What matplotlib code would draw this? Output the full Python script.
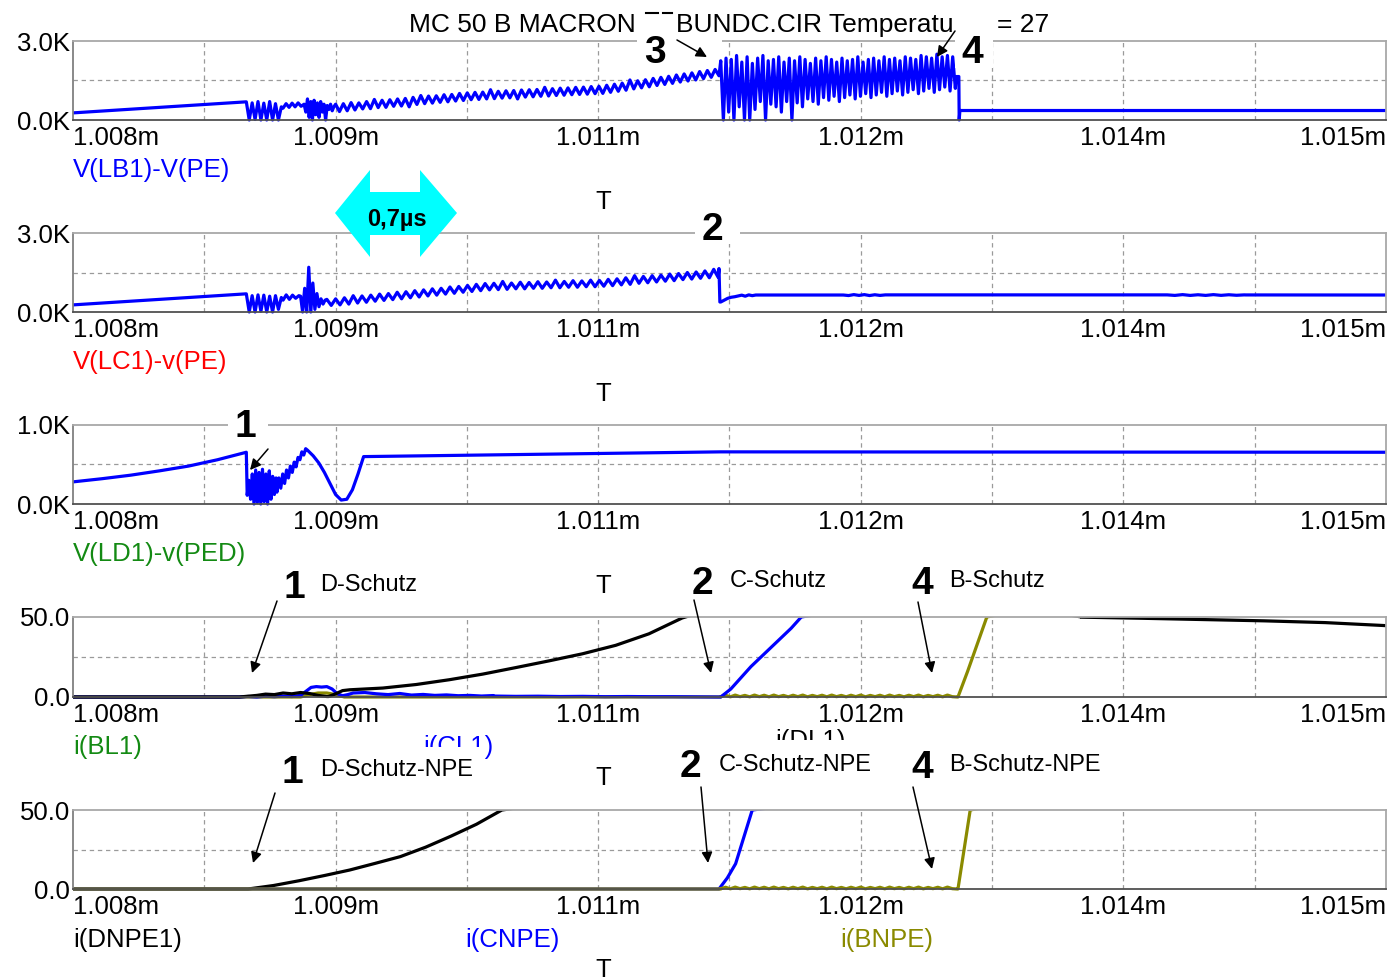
import numpy as np
import matplotlib.pyplot as plt
from matplotlib.patches import Rectangle, Polygon

plt.rcParams['font.family'] = ['Liberation Sans', 'DejaVu Sans']

W, H = 1388, 980
BLUE, RED, GREEN, OLIVE = '#0000ff', '#ff0000', '#138a13', '#8a8a00'

# time axis in microseconds
t_min, t_max = 1008.0, 1015.5
tick_pos = [1008.0, 1009.5, 1011.0, 1012.5, 1014.0, 1015.5]
tick_lbl = ['1.008m', '1.009m', '1.011m', '1.012m', '1.014m', '1.015m']
grid_pos = [1008.75, 1009.5, 1010.25, 1011.0, 1011.75, 1012.5, 1013.25, 1014.0, 1014.75]

# ---- V(LB1)-V(PE)  [V]
lb1_pre = [270, 690]
lb1_burst = [690, 0, 650, 20, 700, 0, 640, 0, 700, 0, 620, 0, 500]
lb1_calm = [450, 620, 480, 640, 500, 650, 520, 600]
lb1_noise = [300, 800, 100, 700, 0, 750, 200, 650, 100, 700, 300, 600, 0, 550, 400, 600, 350, 500]
lb1_ramp = [600, 320, 620, 350, 660, 380, 650, 420, 700, 430, 780, 470, 750, 480, 770, 520,
            800, 530, 820, 500, 860, 590, 930, 620, 910, 640, 920, 670, 960, 690, 970, 720,
            1010, 740, 1030, 770, 1050, 780, 1060, 800, 1150, 810, 1090, 830, 1110, 840,
            1120, 800, 1140, 870, 1150, 880, 1160, 900, 1240, 910, 1190, 930, 1210, 940,
            1220, 960, 1240, 970, 1250, 980, 1270, 1000, 1280, 1010, 1320, 1050, 1360, 1090,
            1400, 1130, 1520, 1180, 1490, 1220, 1530, 1260, 1580, 1310, 1620, 1350, 1660, 1390,
            1710, 1440, 1750, 1480, 1790, 1520, 1840, 1570, 1880, 1620, 1920, 1680]
lb1_ring_hi = [2250, 2350, 2300, 2450, 2200, 2400, 2150, 2350, 2450, 2250, 2300, 2400, 2200, 2350,
               2250, 2400, 2300, 2150, 2350, 2250, 2400, 2300, 2200, 2350, 2250, 2300, 2400, 2200,
               2300, 2350, 2250, 2400, 2300, 2350, 2250, 2400, 2350, 2300, 2450, 2400, 2350, 2500,
               2400, 2450, 2400]
lb1_ring_lo = [0, 300, 0, 500, 0, 0, 400, 700, 0, 600, 500, 300, 700, 0, 650, 500, 800, 700, 600,
               850, 750, 900, 700, 850, 950, 800, 900, 1000, 850, 950, 1050, 900, 1000, 1100, 950,
               1050, 1150, 1000, 1100, 1200, 1050, 1150, 1250, 1100, 1200]
lb1_ring = [v for pair in zip(lb1_ring_hi, lb1_ring_lo) for v in pair]
lb1_plateau = [1650, 1650]
lb1_drop = [0, 360]
lb1_end = [360, 360]

# ---- V(LC1)-v(PE)  [V]
lc1_pre = [270, 690]
lc1_burst = [690, 0, 620, 0, 650, 30, 640, 0, 600, 0, 620, 100, 550]
lc1_calm = [450, 650, 480, 640, 520, 620]
lc1_spike = [600, 0, 900, 0, 1700, 0, 1100, 100, 700, 200, 500, 300, 450]
lc1_ramp = [480, 250, 500, 270, 540, 300, 620, 340, 610, 370, 640, 410, 680, 440, 700, 470,
            750, 500, 770, 540, 810, 570, 840, 610, 880, 640, 900, 680, 950, 710, 970, 750,
            1010, 780, 1050, 810, 1080, 840, 1090, 850, 1160, 860, 1100, 880, 1130, 880,
            1120, 900, 1150, 900, 1140, 920, 1210, 920, 1160, 940, 1190, 940, 1180, 960,
            1210, 960, 1200, 980, 1240, 1000, 1260, 1030, 1300, 1050, 1380, 1090, 1350, 1110,
            1380, 1140, 1400, 1170, 1440, 1190, 1460, 1230, 1500, 1250, 1520, 1280, 1560, 1300,
            1620, 1320]
lc1_drop = [1650, 380]
lc1_settle = [380, 450, 520, 560, 580, 610, 640, 600, 650, 620, 645]
lc1_flat1 = [645, 645]
lc1_rip1 = [645, 625, 660, 630, 660, 625, 655, 630, 650]
lc1_flat2 = [650, 650]
lc1_rip2 = [650, 630, 660, 630, 655, 630, 660, 632, 655, 635, 650]
lc1_flat3 = [648, 645]

# ---- V(LD1)-v(PED)  [V]
ld1_pre = [280, 320, 365, 420, 480, 560, 655]
ld1_burst = [110, 300, 60, 380, 0, 430, 20, 400, 0, 440, 30, 380, 0, 420, 60, 350, 120, 330]
ld1_rise = [150, 330, 200, 380, 260, 430, 330, 480, 400, 530, 470, 590, 560, 660, 620, 700, 680]
ld1_dip = [680, 610, 520, 400, 260, 120, 50, 60, 180, 380, 600]
ld1_flat = [600, 620, 640, 660]
ld1_end = [660, 655]

# ---- currents [A], panel 4
dl1_zero = [0, 0]
dl1_early = [0, 0.5, 1.0, 1.8, 1.5, 2.5, 2.0, 2.8, 2.2, 1.0, 0.3]
dl1_step = [0.3, 2.0, 4.0, 4.5]
dl1_rise = [4.5, 5.6, 7.8, 10.8, 14.3, 18.4, 22.6, 27.0, 32.3, 39.5, 49.4]
dl1_over = [49.4, 60, 68, 72, 70, 64, 56, 50]
dl1_tail = [49.9, 49.2, 48.4, 47.6, 46.5, 44.6]

cl1_zero = [0, 0]
cl1_low = [0, 0.3, 0, 0.5, 0.2, 0.6, 0.3, 1.0]
cl1_bump = [1.0, 3.5, 6.0, 6.5, 6.2, 6.5, 5.0, 2.0, 0.8, 1.5, 2.5]
cl1_tail = [2.5, 2.8, 2.0, 1.5, 2.2, 1.2, 1.6, 1.0, 1.3, 0.8, 1.0, 0.6, 0.9]
cl1_flat = [0.6, 0.4, 0.5, 0.3, 0.4, 0.2, 0.3, 0.2, 0.2, 0.1, 0.0]
cl1_rise = [0, 5, 12, 19, 25, 31, 37, 43, 50]
cl1_over = [50, 80, 95]

olive_ripple = [0.2, 1.1, 0.1, 1.2, 0.2, 1.0, 0.1, 1.2, 0.2, 1.1, 0.1, 1.2, 0.2, 1.0, 0.1, 1.1,
                0.2, 1.2, 0.1, 1.0, 0.2, 1.1, 0.1, 1.2, 0.2, 1.0, 0.1, 1.1, 0.2, 1.2, 0.1, 1.0,
                0.2, 1.1, 0.1, 1.2, 0.2, 1.0, 0.1, 1.1, 0.2, 1.2, 0.1, 1.0, 0.2, 1.1, 0.1, 1.2,
                0.2, 0.0]
bl1_zero = [0, 0]
bl1_bump = [0, 1.5, 2.5, 2.5, 1.5, 0]
bl1_rise = [0, 16, 33, 50]
bl1_over = [50, 100]

# ---- currents [A], panel 5
dnpe_rise = [0, 2.2, 5.2, 8.5, 12.0, 16.2, 20.5, 26.5, 33.5, 41.0, 50.0]
dnpe_over = [50, 90, 130]
cnpe_rise = [0, 7, 16, 33, 50]
cnpe_over = [50, 100]
bnpe_rise = [0, 50]
bnpe_over = [50, 100]


def build(segs):
    ts, vs = [], []
    for t0, t1, vals in segs:
        ts.append(np.linspace(t0, t1, len(vals)))
        vs.append(np.asarray(vals, dtype=float))
    return np.concatenate(ts), np.concatenate(vs)


lb1 = build([(1008.0, 1008.985, lb1_pre), (1008.99, 1009.19, lb1_burst), (1009.2, 1009.32, lb1_calm),
             (1009.33, 1009.49, lb1_noise), (1009.5, 1011.69, lb1_ramp), (1011.70, 1013.04, lb1_ring),
             (1013.045, 1013.06, lb1_plateau), (1013.062, 1013.066, lb1_drop), (1013.07, 1015.5, lb1_end)])
lc1 = build([(1008.0, 1008.985, lc1_pre), (1008.99, 1009.19, lc1_burst), (1009.2, 1009.29, lc1_calm),
             (1009.30, 1009.44, lc1_spike), (1009.45, 1011.685, lc1_ramp), (1011.69, 1011.695, lc1_drop),
             (1011.70, 1011.9, lc1_settle), (1011.91, 1012.4, lc1_flat1), (1012.4, 1012.64, lc1_rip1),
             (1012.65, 1014.25, lc1_flat2), (1014.25, 1014.69, lc1_rip2), (1014.7, 1015.5, lc1_flat3)])
ld1 = build([(1008.0, 1008.99, ld1_pre), (1008.995, 1009.16, ld1_burst), (1009.165, 1009.34, ld1_rise),
             (1009.34, 1009.66, ld1_dip), (1009.66, 1011.7, ld1_flat), (1011.7, 1015.5, ld1_end)])

dl1 = build([(1008.0, 1008.95, dl1_zero), (1008.95, 1009.45, dl1_early), (1009.46, 1009.58, dl1_step),
             (1009.58, 1011.48, dl1_rise), (1011.48, 1013.76, dl1_over), (1013.76, 1015.5, dl1_tail)])
cl1 = build([(1008.0, 1008.95, cl1_zero), (1008.95, 1009.3, cl1_low), (1009.3, 1009.6, cl1_bump),
             (1009.6, 1010.4, cl1_tail), (1010.4, 1011.68, cl1_flat), (1011.70, 1012.16, cl1_rise),
             (1012.16, 1015.5, cl1_over)])
bl1 = build([(1008.0, 1009.3, bl1_zero), (1009.3, 1009.55, bl1_bump), (1009.55, 1011.7, bl1_zero),
             (1011.7, 1013.05, olive_ripple), (1013.055, 1013.22, bl1_rise), (1013.22, 1015.5, bl1_over)])

dnpe = build([(1008.0, 1009.0, dl1_zero), (1009.0, 1010.45, dnpe_rise), (1010.45, 1015.5, dnpe_over)])
cnpe = build([(1008.0, 1011.69, cl1_zero), (1011.69, 1011.88, cnpe_rise), (1011.88, 1015.5, cnpe_over)])
bnpe = build([(1008.0, 1011.7, bl1_zero), (1011.7, 1013.05, olive_ripple), (1013.055, 1013.125, bnpe_rise),
              (1013.125, 1015.5, bnpe_over)])

panels = [
    dict(top=41, bot=120, ymax=3000, ylbl=['0.0K', '3.0K'], traces=[(lb1, BLUE)]),
    dict(top=233, bot=312, ymax=3000, ylbl=['0.0K', '3.0K'], traces=[(lc1, BLUE)]),
    dict(top=425, bot=504, ymax=1000, ylbl=['0.0K', '1.0K'], traces=[(ld1, BLUE)]),
    dict(top=617, bot=697, ymax=50, ylbl=['0.0', '50.0'], traces=[(bl1, OLIVE), (cl1, BLUE), (dl1, 'black')]),
    dict(top=810, bot=889, ymax=50, ylbl=['0.0', '50.0'], traces=[(dnpe, 'black'), (cnpe, BLUE), (bnpe, OLIVE)]),
]

fig = plt.figure(figsize=(W / 100, H / 100), dpi=100)
FS = 18.5

for p in panels:
    ax = fig.add_axes([73 / W, 1 - p['bot'] / H, 1313 / W, (p['bot'] - p['top']) / H])
    ax.set_xlim(t_min, t_max)
    ax.set_ylim(0, p['ymax'])
    for g in grid_pos:
        ax.axvline(g, color='#9a9a9a', lw=0.9, ls=(0, (3.5, 3)), zorder=0.5)
    ax.axhline(p['ymax'] / 2, color='#9a9a9a', lw=0.9, ls=(0, (3.5, 3)), zorder=0.5)
    clip = Rectangle((0, -0.05), 1, 1.05, transform=ax.transAxes, fc='none', ec='none')
    for (t, v), c in p['traces']:
        ln, = ax.plot(t, v, color=c, lw=2.3, zorder=2)
        ln.set_clip_path(clip)
    ax.set_xticks(tick_pos)
    ax.set_xticklabels(tick_lbl, fontsize=FS)
    labs = ax.get_xticklabels()
    labs[0].set_ha('left')
    labs[-1].set_ha('right')
    ax.set_yticks([0, p['ymax']])
    ax.set_yticklabels(p['ylbl'], fontsize=FS)
    ax.tick_params(length=0, pad=4)
    ax.tick_params(axis='y', pad=2)
    for s in ['top', 'right']:
        ax.spines[s].set_color('#a8a8a8')
        ax.spines[s].set_linewidth(1.3)
    ax.spines['left'].set_color('#808080')
    ax.spines['left'].set_linewidth(1.3)
    ax.spines['bottom'].set_color('#505050')
    ax.spines['bottom'].set_linewidth(1.3)

# overlay in pixel coordinates for labels and annotations
ov = fig.add_axes([0, 0, 1, 1], zorder=10)
ov.set_xlim(0, W)
ov.set_ylim(H, 0)
ov.axis('off')


def txt(x, y, s, ha='left', size=FS, color='black', weight='normal', z=3):
    ov.text(x, y, s, ha=ha, va='baseline', fontsize=size, color=color, fontweight=weight, zorder=z)


def cover(x0, y0, x1, y1):
    ov.add_patch(Rectangle((x0, y0), x1 - x0, y1 - y0, fc='white', ec='none', zorder=4))


def arrow(tail, tip):
    ov.annotate('', xy=tip, xytext=tail,
                arrowprops=dict(arrowstyle='-|>', color='black', lw=1.1, mutation_scale=16,
                                shrinkA=0, shrinkB=0), zorder=6)


# title pieces
txt(636, 32, 'MC 50 B MACRON', ha='right', size=19)
ov.plot([646, 658], [13, 13], color='black', lw=1.5)
ov.plot([663, 672], [13, 13], color='black', lw=1.5)
txt(676, 32, 'BUNDC.CIR Temperature', size=19)
txt(997, 32, '= 27', size=19)

# legends
txt(73, 177, 'V(LB1)-V(PE)', color=BLUE)
txt(73, 369, 'V(LC1)-v(PE)', color=RED)
txt(73, 561, 'V(LD1)-v(PED)', color=GREEN)
txt(73, 754, 'i(BL1)', color=GREEN)
txt(423, 754, 'i(CL1)', color=BLUE)
txt(775, 748, 'i(DL1)', color='black')
txt(73, 947, 'i(DNPE1)', color='black')
txt(465, 947, 'i(CNPE)', color=BLUE)
txt(840, 947, 'i(BNPE)', color=OLIVE)
for yb in [209, 401, 593, 785, 977]:
    txt(603, yb, 'T', ha='center')

# white label boxes
cover(637, 15, 676, 64)
cover(676, 37, 722, 44)
cover(955, 10, 993, 68)
cover(695, 210, 740, 244)
cover(228, 408, 268, 440)
cover(280, 747, 485, 790)
cover(676, 740, 872, 790)

BIG = 28
txt(655, 63, '3', ha='center', size=BIG, weight='bold', z=5)
txt(972, 63, '4', ha='center', size=BIG, weight='bold', z=5)
txt(712, 240, '2', ha='center', size=BIG, weight='bold', z=5)
txt(245, 437, '1', ha='center', size=BIG, weight='bold', z=5)
txt(294, 598, '1', ha='center', size=BIG, weight='bold', z=5)
txt(702, 594, '2', ha='center', size=BIG, weight='bold', z=5)
txt(922, 594, '4', ha='center', size=BIG, weight='bold', z=5)
txt(292, 783, '1', ha='center', size=BIG, weight='bold', z=5)
txt(690, 777, '2', ha='center', size=BIG, weight='bold', z=5)
txt(922, 778, '4', ha='center', size=BIG, weight='bold', z=5)

SM = 17
txt(320, 591, 'D-Schutz', size=SM, z=5)
txt(730, 587, 'C-Schutz', size=SM, z=5)
txt(949, 587, 'B-Schutz', size=SM, z=5)
txt(320, 776, 'D-Schutz-NPE', size=SM, z=5)
txt(719, 771, 'C-Schutz-NPE', size=SM, z=5)
txt(949, 771, 'B-Schutz-NPE', size=SM, z=5)

arrow((677, 40), (707, 57))
arrow((955, 31), (937, 57))
arrow((268, 449), (250, 470))
arrow((277, 601), (252, 673))
arrow((694, 600), (711, 673))
arrow((918, 602), (932, 673))
arrow((275, 793), (253, 863))
arrow((701, 787), (708, 863))
arrow((913, 787), (932, 869))

# cyan double arrow with duration label
ov.add_patch(Polygon([(335, 213), (370, 170), (370, 192), (420, 192), (420, 170), (457, 213),
                      (420, 257), (420, 235), (370, 235), (370, 257)],
                     closed=True, fc='#00ffff', ec='none', zorder=5))
txt(397, 226, '0,7µs', ha='center', size=17, weight='bold', z=6)

fig.savefig('out.png', dpi=100)
